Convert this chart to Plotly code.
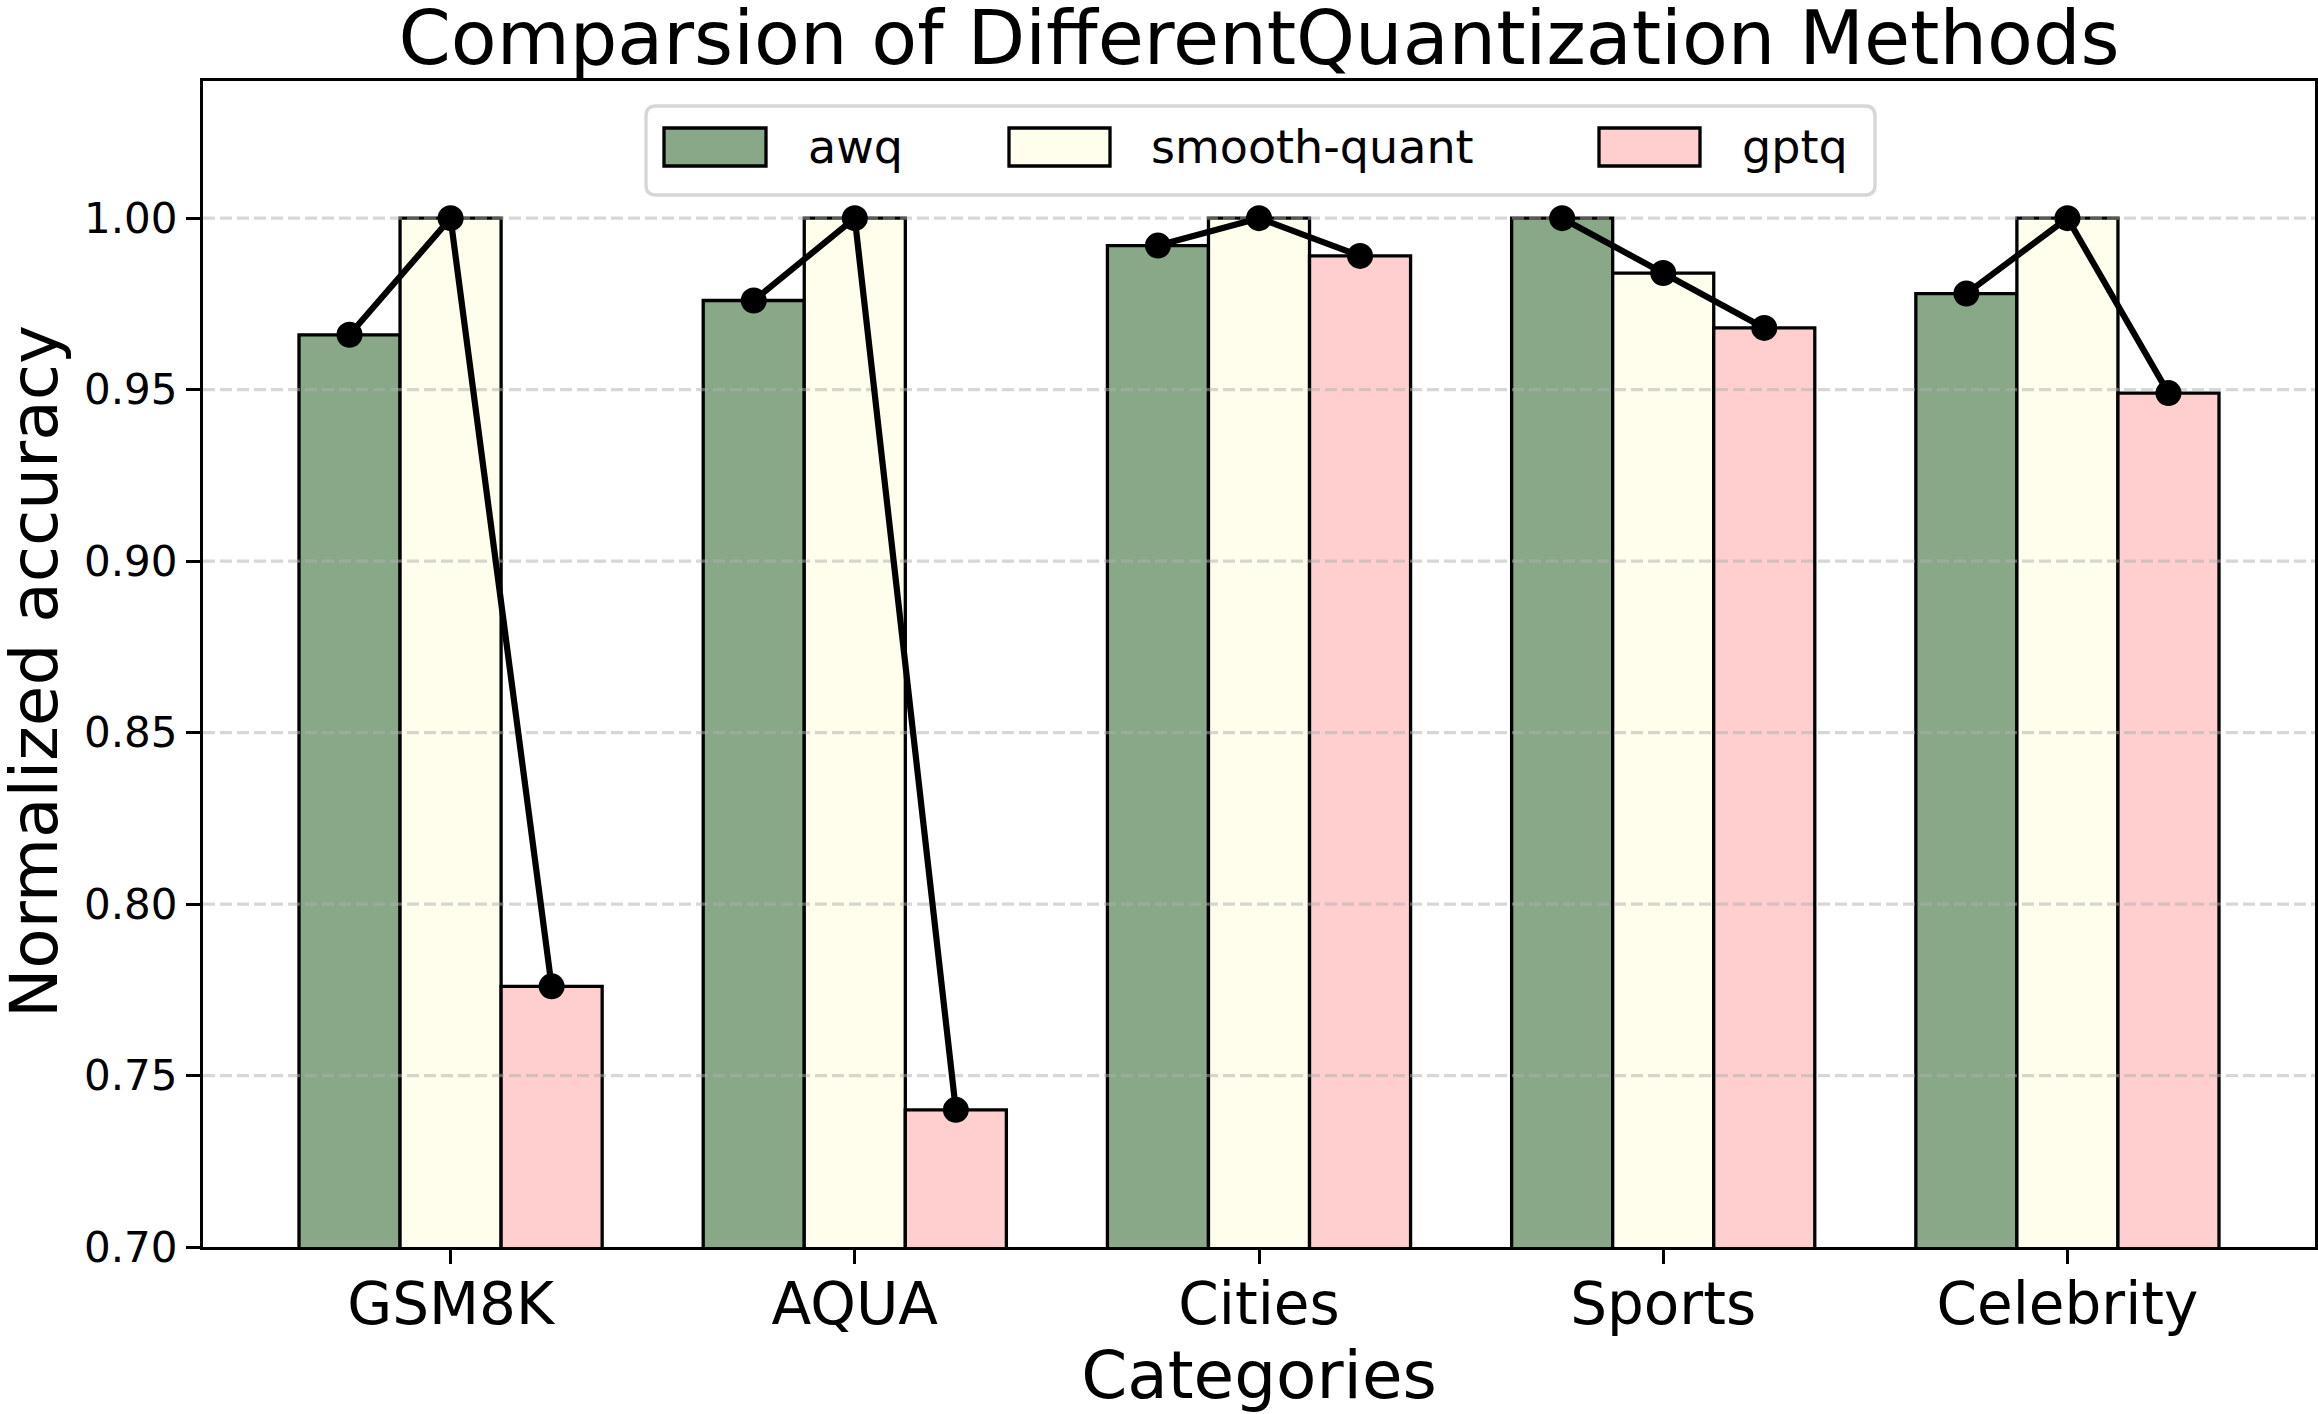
import plotly.graph_objects as go

# ---------------- data ----------------
categories = ["GSM8K", "AQUA", "Cities", "Sports", "Celebrity"]
methods = ["awq", "smooth-quant", "gptq"]
awq = [0.966, 0.976, 0.992, 1.000, 0.978]
smooth_quant = [1.000, 1.000, 1.000, 0.984, 1.000]
gptq = [0.776, 0.740, 0.989, 0.968, 0.949]
y_ticks = [0.70, 0.75, 0.80, 0.85, 0.90, 0.95, 1.00]
y_tick_labels = ["0.70", "0.75", "0.80", "0.85", "0.90", "0.95", "1.00"]

# ---------------- style ----------------
colors = ["#88a888", "#fffdeb", "#ffcfcf"]
FONT = "DejaVu Sans"
W, H = 2318, 1414
L, R, T, B = 203, 2315, 81, 1247
bar_w = 0.25
offsets = [-bar_w, 0.0, bar_w]
series = [awq, smooth_quant, gptq]
n = len(categories)
lo, hi = -1.5 * bar_w, (n - 1) + 1.5 * bar_w
pad = 0.05 * (hi - lo)
x_range = [lo - pad, hi + pad]
y_range = [0.70, 1.04]
EDGE = 3.3

fig = go.Figure()

for vals, name, col, off in zip(series, methods, colors, offsets):
    fig.add_trace(go.Bar(
        x=[i + off for i in range(n)], y=vals, width=bar_w, name=name,
        base=0, marker=dict(color=col, line=dict(color="black", width=EDGE)),
        showlegend=False,
    ))

# grid lines (drawn above bars, below the line)
gx, gy = [], []
for t in y_ticks[1:]:
    gx += [x_range[0], x_range[1], None]
    gy += [t, t, None]
fig.add_trace(go.Scatter(
    x=gx, y=gy, mode="lines", hoverinfo="skip", showlegend=False,
    line=dict(color="rgba(176,176,176,0.5)", width=EDGE, dash="12px,5px"),
))

# connecting lines per category
lx, ly = [], []
for i in range(n):
    for s, off in zip(series, offsets):
        lx.append(i + off)
        ly.append(s[i])
    lx.append(None)
    ly.append(None)
fig.add_trace(go.Scatter(
    x=lx, y=ly, mode="lines+markers", showlegend=False,
    line=dict(color="black", width=6.2),
    marker=dict(color="black", size=26, line=dict(width=0)),
))

# ---------------- custom legend ----------------
def px_x(p):
    return (p - L) / (R - L)

def px_y(p):
    return (B - p) / (B - T)

shapes = []
# rounded legend frame
bx0, bx1, by0, by1, r = 646, 1875, 106, 195, 10
path = (
    f"M {px_x(bx0 + r)},{px_y(by0)} L {px_x(bx1 - r)},{px_y(by0)} "
    f"Q {px_x(bx1)},{px_y(by0)} {px_x(bx1)},{px_y(by0 + r)} "
    f"L {px_x(bx1)},{px_y(by1 - r)} "
    f"Q {px_x(bx1)},{px_y(by1)} {px_x(bx1 - r)},{px_y(by1)} "
    f"L {px_x(bx0 + r)},{px_y(by1)} "
    f"Q {px_x(bx0)},{px_y(by1)} {px_x(bx0)},{px_y(by1 - r)} "
    f"L {px_x(bx0)},{px_y(by0 + r)} "
    f"Q {px_x(bx0)},{px_y(by0)} {px_x(bx0 + r)},{px_y(by0)} Z"
)
shapes.append(dict(type="path", path=path, xref="paper", yref="paper",
                   fillcolor="rgba(255,255,255,0.8)",
                   line=dict(color="rgba(204,204,204,0.8)", width=EDGE),
                   layer="above"))
patch_x = [(664, 766), (1009, 1110), (1599, 1700)]
text_x = [806, 1149, 1740]
annotations = []
for (x0, x1), tx, col, name in zip(patch_x, text_x, colors, methods):
    shapes.append(dict(type="rect", xref="paper", yref="paper",
                       x0=px_x(x0), x1=px_x(x1), y0=px_y(166), y1=px_y(128),
                       fillcolor=col, line=dict(color="black", width=EDGE),
                       layer="above"))
    annotations.append(dict(text=name, xref="paper", yref="paper",
                            x=px_x(tx), y=px_y(147), xanchor="left",
                            yanchor="middle", showarrow=False,
                            font=dict(family=FONT, size=46, color="black")))

# y-axis title placed as a rotated annotation for exact positioning
annotations.append(dict(text="Normalized accuracy", xref="paper", yref="paper",
                        x=px_x(34), y=px_y(672), xanchor="center", yanchor="middle",
                        textangle=-90, showarrow=False,
                        font=dict(family=FONT, size=66, color="black")))

fig.update_layout(
    width=W, height=H,
    margin=dict(l=L, r=W - R, t=T, b=H - B, autoexpand=False),
    paper_bgcolor="white", plot_bgcolor="white",
    font=dict(family=FONT, color="black"),
    barmode="overlay",
    title=dict(text="Comparsion of DifferentQuantization Methods",
               font=dict(family=FONT, size=75, color="black"),
               x=(L + R) / 2 / W, xanchor="center", xref="container",
               y=1 - 38 / H, yanchor="middle", yref="container"),
    shapes=shapes, annotations=annotations,
    showlegend=False,
)
fig.update_xaxes(
    range=x_range, tickmode="array", tickvals=list(range(n)), ticktext=categories,
    ticks="outside", ticklen=14, tickwidth=EDGE, tickcolor="black",
    ticklabelstandoff=-10,
    showline=True, linewidth=EDGE, linecolor="black", mirror=True,
    showgrid=False, zeroline=False, automargin=False,
    tickfont=dict(family=FONT, size=58, color="black"),
    title=dict(text="Categories", font=dict(family=FONT, size=66, color="black"),
               standoff=22),
)
fig.update_yaxes(
    range=y_range, tickmode="array", tickvals=y_ticks, ticktext=y_tick_labels,
    ticks="outside", ticklen=14, tickwidth=EDGE, tickcolor="black",
    showline=True, linewidth=EDGE, linecolor="black", mirror=True,
    showgrid=False, zeroline=False, automargin=False,
    tickfont=dict(family=FONT, size=42, color="black"),
)

fig.write_html("out.html")
